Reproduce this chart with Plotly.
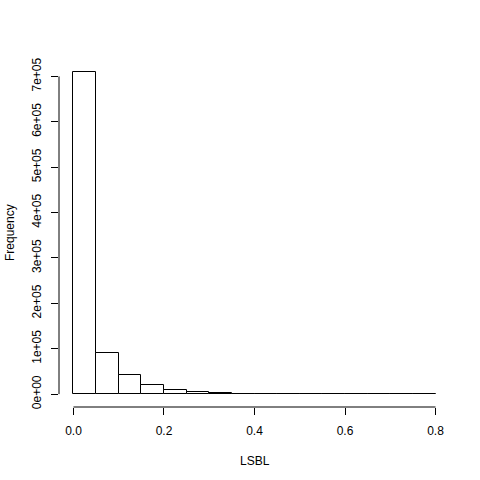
import plotly.graph_objects as go

# Histogram data (R-style hist of LSBL)
bin_edges = [0.00, 0.05, 0.10, 0.15, 0.20, 0.25, 0.30, 0.35, 0.40, 0.45,
             0.50, 0.55, 0.60, 0.65, 0.70, 0.75, 0.80]
counts = [710000, 90000, 41300, 19200, 8200, 3800, 1500, 800, 450, 300,
          200, 120, 70, 40, 20, 10]

x_tickvals = [0.0, 0.2, 0.4, 0.6, 0.8]
x_ticktext = ["0.0", "0.2", "0.4", "0.6", "0.8"]
y_tickvals = [0, 100000, 200000, 300000, 400000, 500000, 600000, 700000]
y_ticktext = ["0e+00", "1e+05", "2e+05", "3e+05", "4e+05", "5e+05", "6e+05", "7e+05"]

centers = [(bin_edges[i] + bin_edges[i + 1]) / 2 for i in range(len(counts))]
widths = [bin_edges[i + 1] - bin_edges[i] for i in range(len(counts))]

FONT = "Liberation Sans, Arial, Helvetica, sans-serif"

fig = go.Figure()
fig.add_trace(go.Bar(
    x=centers, y=counts, width=widths,
    marker=dict(color="white", line=dict(color="black", width=1)),
    hoverinfo="x+y",
))

# R-style axis extents (4% padding)
xmin, xmax = bin_edges[0], bin_edges[-1]
xpad = 0.04 * (xmax - xmin)
ymax = max(counts)
ypad = 0.04 * ymax

fig.update_layout(
    width=480, height=480,
    margin=dict(l=59, r=30, t=59, b=73, pad=0),
    paper_bgcolor="white", plot_bgcolor="white",
    showlegend=False,
    bargap=0,
    font=dict(family=FONT, size=12, color="black"),
    xaxis=dict(
        range=[xmin - xpad, xmax + xpad],
        tickvals=x_tickvals, ticktext=x_ticktext,
        ticks="outside", ticklen=7, tickwidth=1, tickcolor="black",
        showgrid=False, zeroline=False, showline=False,
        ticklabelstandoff=6,
        tickfont=dict(family=FONT, size=12, color="black"),
    ),
    yaxis=dict(
        range=[-ypad, ymax + ypad],
        tickvals=y_tickvals, ticktext=y_ticktext,
        ticks="outside", ticklen=7, tickwidth=1, tickcolor="black",
        tickangle=-90,
        showgrid=False, zeroline=False, showline=False,
        ticklabelstandoff=5,
        tickfont=dict(family=FONT, size=12, color="black"),
    ),
    shapes=[
        dict(type="line", xref="x", yref="paper",
             x0=x_tickvals[0], x1=x_tickvals[-1], y0=0, y1=0,
             line=dict(color="black", width=1)),
        dict(type="line", xref="paper", yref="y",
             x0=0, x1=0, y0=y_tickvals[0], y1=y_tickvals[-1],
             line=dict(color="black", width=1)),
    ],
    annotations=[
        dict(text="LSBL", xref="paper", yref="paper", x=0.5, y=0,
             xanchor="center", yanchor="middle", yshift=-54, showarrow=False,
             font=dict(family=FONT, size=12, color="black")),
        dict(text="Frequency", xref="paper", yref="paper", x=0, y=0.5,
             xanchor="center", yanchor="middle", xshift=-49, textangle=-90,
             showarrow=False,
             font=dict(family=FONT, size=12, color="black")),
    ],
)

# remove the default 8px page margin so the figure sits at the window's corner
fig.write_html(
    "out.html",
    config={"displayModeBar": False},
    post_script="document.body.style.margin='0px';",
)
